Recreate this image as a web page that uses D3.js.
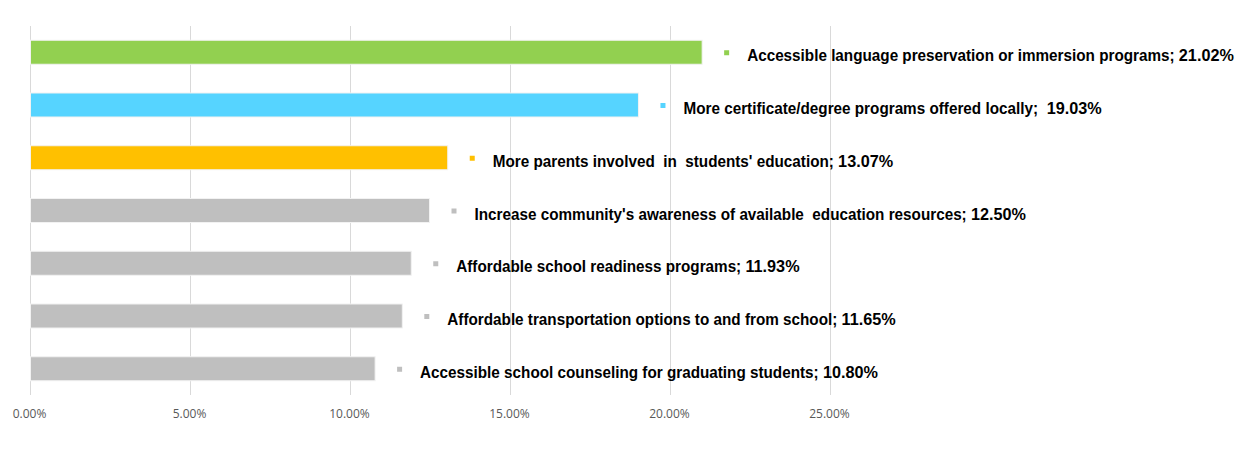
<!DOCTYPE html>
<html>
<head>
<meta charset="utf-8">
<script src="https://cdn.jsdelivr.net/npm/d3@7"></script>
<style>
  body { margin: 0; background: #fff; }
  .tick-label { font-family: "Open Sans", sans-serif; font-size: 12px; fill: #595959; }
  .bar-label { font-family: "Liberation Sans", sans-serif; font-weight: bold; font-size: 16px; fill: #000; white-space: pre; }
</style>
</head>
<body>
<svg id="chart" width="1238" height="456"></svg>
<script>
const categories = [
  "Accessible language preservation or immersion programs",
  "More certificate/degree programs offered locally",
  "More parents involved  in  students' education",
  "Increase community's awareness of available  education resources",
  "Affordable school readiness programs",
  "Affordable transportation options to and from school",
  "Accessible school counseling for graduating students"
];
const values = [21.02, 19.03, 13.07, 12.50, 11.93, 11.65, 10.80];
const valueLabels = ["21.02%", " 19.03%", "13.07%", "12.50%", "11.93%", "11.65%", "10.80%"];
const barColors = ["#92d050", "#56d4ff", "#ffc000", "#bfbfbf", "#bfbfbf", "#bfbfbf", "#bfbfbf"];
const tickValues = [0, 5, 10, 15, 20, 25];
const tickLabels = ["0.00%", "5.00%", "10.00%", "15.00%", "20.00%", "25.00%"];

const svg = d3.select("#chart");
const plot = { left: 29.5, top: 26, bottom: 395 };

const x = d3.scaleLinear().domain([0, 25]).range([plot.left, plot.left + 800]);
const y = d3.scaleBand().domain(d3.range(categories.length))
  .range([plot.top, plot.bottom]).paddingInner(0.545).paddingOuter(0.27);

// gridlines
svg.append("g").selectAll("line")
  .data(tickValues).enter().append("line")
  .attr("x1", d => Math.round(x(d)) + 0.5).attr("x2", d => Math.round(x(d)) + 0.5)
  .attr("y1", plot.top).attr("y2", plot.bottom)
  .attr("stroke", "#d9d9d9").attr("stroke-width", 1);

// tick labels
svg.append("g").selectAll("text")
  .data(tickValues).enter().append("text")
  .attr("class", "tick-label")
  .attr("x", d => x(d)).attr("y", 418)
  .attr("text-anchor", "middle")
  .text((d, i) => tickLabels[i]);

// bars
svg.append("g").selectAll("rect")
  .data(values).enter().append("rect")
  .attr("x", x(0) + 1).attr("y", (d, i) => y(i))
  .attr("width", d => x(d) - x(0) - 1).attr("height", y.bandwidth())
  .attr("fill", (d, i) => barColors[i])
  .attr("stroke", "#f2f2f2").attr("stroke-width", 1);

// labels with legend keys
const lab = svg.append("g").selectAll("g")
  .data(values).enter().append("g")
  .attr("transform", (d, i) => `translate(${x(d) + 22},${y(i) + y.bandwidth() / 2})`);

lab.append("rect")
  .attr("x", 0).attr("y", -2).attr("width", 5).attr("height", 5)
  .attr("fill", (d, i) => barColors[i]);

// condensed look: squeeze the text horizontally
const txt = lab.append("text")
  .attr("class", "bar-label")
  .attr("transform", "translate(23,9) scale(0.955,1)");
txt.append("tspan").text((d, i) => categories[i] + "; ");
txt.append("tspan").style("font-size", "17px").text((d, i) => valueLabels[i]);
</script>
</body>
</html>
